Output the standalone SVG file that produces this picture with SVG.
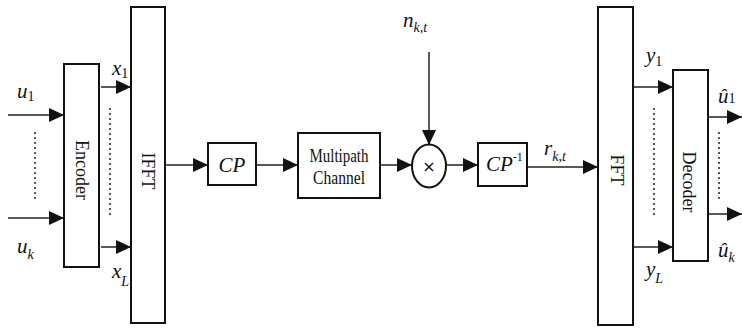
<svg xmlns="http://www.w3.org/2000/svg" width="742" height="329" viewBox="0 0 742 329">
<style>
.box{fill:#fff;stroke:#111;stroke-width:2}
.ln{stroke:#222;stroke-width:1.5;fill:none}
.dot{stroke:#222;stroke-width:1.5;stroke-dasharray:2 3;fill:none}
.t{font-family:"Liberation Serif","Times New Roman",serif;font-size:18px;fill:#111}
.m{font-family:"Liberation Serif","Times New Roman",serif;font-style:italic;font-size:21px;fill:#111}
.s{font-size:14px}
</style>
<defs>
<marker id="ah" markerUnits="userSpaceOnUse" markerWidth="15" markerHeight="14" refX="15" refY="7" orient="auto">
<path d="M0,0 L15,7 L0,14 Z" fill="#111"/>
</marker>
</defs>
<g id="connectors">
<line class="ln" x1="8" y1="115" x2="64" y2="115" marker-end="url(#ah)"/>
<line class="ln" x1="8" y1="218" x2="64" y2="218" marker-end="url(#ah)"/>
<line class="ln" x1="101" y1="87" x2="131" y2="87" marker-end="url(#ah)"/>
<line class="ln" x1="101" y1="247" x2="131" y2="247" marker-end="url(#ah)"/>
<line class="ln" x1="166" y1="165" x2="208" y2="165" marker-end="url(#ah)"/>
<line class="ln" x1="257" y1="165" x2="298" y2="165" marker-end="url(#ah)"/>
<line class="ln" x1="381" y1="165" x2="412" y2="165" marker-end="url(#ah)"/>
<line class="ln" x1="446" y1="165" x2="478" y2="165" marker-end="url(#ah)"/>
<line class="ln" x1="429" y1="52" x2="429" y2="145" marker-end="url(#ah)"/>
<line class="ln" x1="528" y1="167" x2="598" y2="167" marker-end="url(#ah)"/>
<line class="ln" x1="634" y1="87" x2="673" y2="87" marker-end="url(#ah)"/>
<line class="ln" x1="634" y1="247" x2="673" y2="247" marker-end="url(#ah)"/>
<line class="ln" x1="709" y1="117" x2="742" y2="117" marker-end="url(#ah)"/>
<line class="ln" x1="709" y1="214" x2="742" y2="214" marker-end="url(#ah)"/>
<line class="dot" x1="35" y1="132" x2="35" y2="200"/>
<line class="dot" x1="110" y1="108" x2="110" y2="218"/>
<line class="dot" x1="654" y1="108" x2="654" y2="218"/>
<line class="dot" x1="719" y1="132" x2="719" y2="200"/>
</g>
<g id="encoder">
<rect class="box" x="64" y="64" width="35" height="203"/>
<text class="t" text-anchor="middle" transform="translate(76,170) rotate(90)">Encoder</text>
</g>
<g id="ifft">
<rect class="box" x="131" y="7" width="34" height="316"/>
<text class="t" text-anchor="middle" transform="translate(142,171) rotate(90)">IFFT</text>
</g>
<g id="cp">
<rect class="box" x="208" y="143" width="48" height="42"/>
<text class="m" x="232" y="172" text-anchor="middle">CP</text>
</g>
<g id="channel">
<rect class="box" x="298" y="133" width="82" height="65"/>
<text class="t" x="339" y="162" text-anchor="middle" font-size="17" textLength="59" lengthAdjust="spacingAndGlyphs">Multipath</text>
<text class="t" x="339" y="184" text-anchor="middle" font-size="17" textLength="52" lengthAdjust="spacingAndGlyphs">Channel</text>
</g>
<g id="mult">
<ellipse class="box" cx="429" cy="166" rx="17" ry="21.5" stroke-width="1.5"/>
<text x="429" y="172" text-anchor="middle" font-family="'DejaVu Sans',sans-serif" font-size="16" fill="#111">×</text>
</g>
<g id="cpinv">
<rect class="box" x="478" y="143" width="49" height="43"/>
<text class="m" x="486" y="171">CP<tspan font-size="12" font-style="normal" dy="-10">-1</tspan></text>
</g>
<g id="fft">
<rect class="box" x="598" y="7" width="35" height="318"/>
<text class="t" text-anchor="middle" transform="translate(611,170) rotate(90)">FFT</text>
</g>
<g id="decoder">
<rect class="box" x="673" y="70" width="35" height="191"/>
<text class="t" text-anchor="middle" transform="translate(683,182) rotate(90)">Decoder</text>
</g>
<g id="labels">
<text class="m" x="17" y="98">u<tspan class="s" font-style="normal" dy="3">1</tspan></text>
<text class="m" x="17" y="253">u<tspan class="s" dy="6">k</tspan></text>
<text class="m" x="112" y="75">x<tspan class="s" font-style="normal" dy="3">1</tspan></text>
<text class="m" x="112" y="278">x<tspan class="s" dy="8">L</tspan></text>
<text class="m" x="403" y="27">n<tspan class="s" dy="5">k,t</tspan></text>
<text class="m" x="544" y="155">r<tspan class="s" dy="6">k,t</tspan></text>
<text class="m" x="646" y="62">y<tspan class="s" font-style="normal" dy="4">1</tspan></text>
<text class="m" x="646" y="276">y<tspan class="s" dy="7">L</tspan></text>
<text class="m" x="718" y="103">û<tspan class="s" font-style="normal" dy="0">1</tspan></text>
<text class="m" x="718" y="257">û<tspan class="s" dy="5">k</tspan></text>
</g>
</svg>
